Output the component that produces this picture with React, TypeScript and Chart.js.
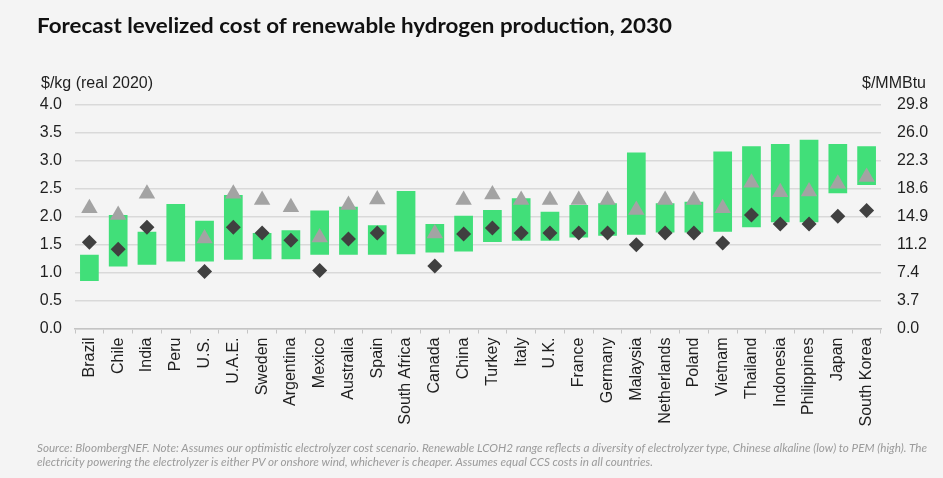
import React, { useEffect, useRef } from 'react';
import { Chart, registerables } from 'chart.js';

Chart.register(...registerables);

const categories = ['Brazil', 'Chile', 'India', 'Peru', 'U.S.', 'U.A.E.', 'Sweden', 'Argentina', 'Mexico', 'Australia', 'Spain', 'South Africa', 'Canada', 'China', 'Turkey', 'Italy', 'U.K.', 'France', 'Germany', 'Malaysia', 'Netherlands', 'Poland', 'Vietnam', 'Thailand', 'Indonesia', 'Philippines', 'Japan', 'South Korea'];

const renewableLow = [0.85, 1.11, 1.14, 1.2, 1.2, 1.23, 1.24, 1.24, 1.32, 1.32, 1.32, 1.33, 1.36, 1.38, 1.55, 1.57, 1.57, 1.63, 1.66, 1.68, 1.72, 1.72, 1.73, 1.81, 1.9, 1.9, 2.42, 2.57];
const renewableHigh = [1.32, 2.03, 1.73, 2.23, 1.93, 2.39, 1.71, 1.76, 2.11, 2.18, 1.85, 2.46, 1.87, 2.02, 2.12, 2.33, 2.09, 2.21, 2.24, 3.15, 2.24, 2.27, 3.17, 3.26, 3.3, 3.38, 3.3, 3.26];
const diamondSeries = [1.545, 1.42, 1.81, null, 1.02, 1.81, 1.71, 1.58, 1.04, 1.6, 1.71, null, 1.12, 1.69, 1.8, 1.71, 1.71, 1.71, 1.71, 1.5, 1.71, 1.71, 1.53, 2.03, 1.87, 1.87, 2.01, 2.11];
const triangleSeries = [2.15, 2.03, 2.41, null, 1.61, 2.41, 2.3, 2.17, 1.63, 2.21, 2.31, null, 1.7, 2.3, 2.4, 2.3, 2.3, 2.3, 2.3, 2.12, 2.3, 2.3, 2.15, 2.61, 2.44, 2.45, 2.59, 2.71];

const leftTickLabels = ['0.0', '0.5', '1.0', '1.5', '2.0', '2.5', '3.0', '3.5', '4.0'];
const rightTickLabels = ['0.0', '3.7', '7.4', '11.2', '14.9', '18.6', '22.3', '26.0', '29.8'];

const titleText = 'Forecast levelized cost of renewable hydrogen production, 2030';
const leftAxisTitle = '$/kg (real 2020)';
const rightAxisTitle = '$/MMBtu';
const note1 = 'Source: BloombergNEF. Note: Assumes our optimistic electrolyzer cost scenario. Renewable LCOH2 range reflects a diversity of electrolyzer type, Chinese alkaline (low) to PEM (high). The';
const note2 = 'electricity powering the electrolyzer is either PV or onshore wind, whichever is cheaper. Assumes equal CCS costs in all countries.';

const FONT = '"Liberation Sans", Arial, sans-serif';

export default function App() {
  const canvasRef = useRef<HTMLCanvasElement>(null);
  const titleRef = useRef<HTMLSpanElement>(null);
  const n1Ref = useRef<HTMLSpanElement>(null);
  const n2Ref = useRef<HTMLSpanElement>(null);

  useEffect(() => {
    const fit = (el: HTMLSpanElement | null, target: number) => {
      if (!el) return 1;
      el.style.transform = 'none';
      const w = el.getBoundingClientRect().width;
      const s = w > 0 ? target / w : 1;
      el.style.transform = `scaleX(${s})`;
      return s;
    };
    fit(titleRef.current, 635);
    const s = fit(n1Ref.current, 890);
    if (n2Ref.current) n2Ref.current.style.transform = `scaleX(${s})`;
  }, []);

  useEffect(() => {
    if (!canvasRef.current) return;
    const tickFont = { family: FONT, size: 16 };
    const chart = new Chart(canvasRef.current, {
      type: 'bar',
      data: {
        labels: categories,
        datasets: [
          {
            type: 'line',
            label: 'Diamond',
            data: diamondSeries,
            showLine: false,
            pointStyle: 'rectRot',
            pointRadius: 7.5,
            pointBorderWidth: 0,
            pointBackgroundColor: '#404040',
            borderColor: '#404040',
            order: 1,
          } as any,
          {
            type: 'line',
            label: 'Triangle',
            data: triangleSeries,
            showLine: false,
            pointStyle: 'triangle',
            pointRadius: 9.5,
            pointBorderWidth: 0,
            pointBackgroundColor: '#a3a3a3',
            borderColor: '#a3a3a3',
            order: 2,
          } as any,
          {
            type: 'bar',
            label: 'Renewable LCOH2 range',
            data: renewableLow.map((lo, i) => [lo, renewableHigh[i]]),
            backgroundColor: '#41df79',
            borderWidth: 0,
            barPercentage: 0.65,
            categoryPercentage: 1,
            order: 3,
          } as any,
        ],
      },
      options: {
        animation: false,
        responsive: false,
        maintainAspectRatio: false,
        events: [],
        layout: { padding: { top: 105, left: 0, right: 0, bottom: 0 } },
        plugins: { legend: { display: false }, tooltip: { enabled: false }, title: { display: false } },
        scales: {
          x: {
            offset: true,
            grid: { offset: true, drawOnChartArea: false, drawTicks: true, tickLength: 5, color: '#c4c4c4', lineWidth: 1 },
            border: { display: true, color: '#c4c4c4', width: 1.5 },
            ticks: { autoSkip: false, maxRotation: 90, minRotation: 90, padding: 4, font: tickFont, color: '#1f1f1f' },
            afterFit: (s: any) => { s.height = 149.5; },
          },
          y: {
            position: 'left',
            min: 0,
            max: 4,
            ticks: { stepSize: 0.5, padding: 13, font: tickFont, color: '#1f1f1f', callback: (_v: any, i: number) => leftTickLabels[i] },
            grid: { color: '#d9d9d9', lineWidth: 1.5, drawTicks: false },
            border: { display: false },
            afterFit: (s: any) => { s.width = 75; },
          },
          y2: {
            position: 'right',
            min: 0,
            max: 4,
            ticks: { stepSize: 0.5, padding: 16, font: tickFont, color: '#1f1f1f', callback: (_v: any, i: number) => rightTickLabels[i] },
            grid: { drawOnChartArea: false, drawTicks: false },
            border: { display: false },
            afterFit: (s: any) => { s.width = 62; },
          },
        },
      } as any,
    });
    return () => chart.destroy();
  }, []);

  return (
    <div style={{ position: 'absolute', left: 0, top: 0, width: 943, height: 478, background: '#f4f4f4', overflow: 'hidden' }}>
      <canvas ref={canvasRef} width={943} height={478} style={{ position: 'absolute', left: 0, top: 0, width: 943, height: 478 }} />
      <span ref={titleRef} style={{ position: 'absolute', left: 37, top: 12, fontFamily: 'Lato, "Open Sans", sans-serif', fontWeight: 700, fontSize: 20, lineHeight: '26px', color: '#111', whiteSpace: 'nowrap', display: 'inline-block', transformOrigin: 'left top' }}>{titleText}</span>
      <div style={{ position: 'absolute', left: 41, top: 73, fontFamily: FONT, fontSize: 16, lineHeight: '19px', color: '#1f1f1f', whiteSpace: 'nowrap' }}>{leftAxisTitle}</div>
      <div style={{ position: 'absolute', right: 17, top: 73, fontFamily: FONT, fontSize: 16, lineHeight: '19px', color: '#1f1f1f', whiteSpace: 'nowrap', textAlign: 'right' }}>{rightAxisTitle}</div>
      <span ref={n1Ref} style={{ position: 'absolute', left: 37, top: 441, fontFamily: 'Lato, "Open Sans", sans-serif', fontStyle: 'italic', fontSize: 11, lineHeight: '14px', color: '#9b9b9b', whiteSpace: 'nowrap', display: 'inline-block', transformOrigin: 'left top' }}>{note1}</span>
      <span ref={n2Ref} style={{ position: 'absolute', left: 37, top: 455, fontFamily: 'Lato, "Open Sans", sans-serif', fontStyle: 'italic', fontSize: 11, lineHeight: '14px', color: '#9b9b9b', whiteSpace: 'nowrap', display: 'inline-block', transformOrigin: 'left top' }}>{note2}</span>
    </div>
  );
}
